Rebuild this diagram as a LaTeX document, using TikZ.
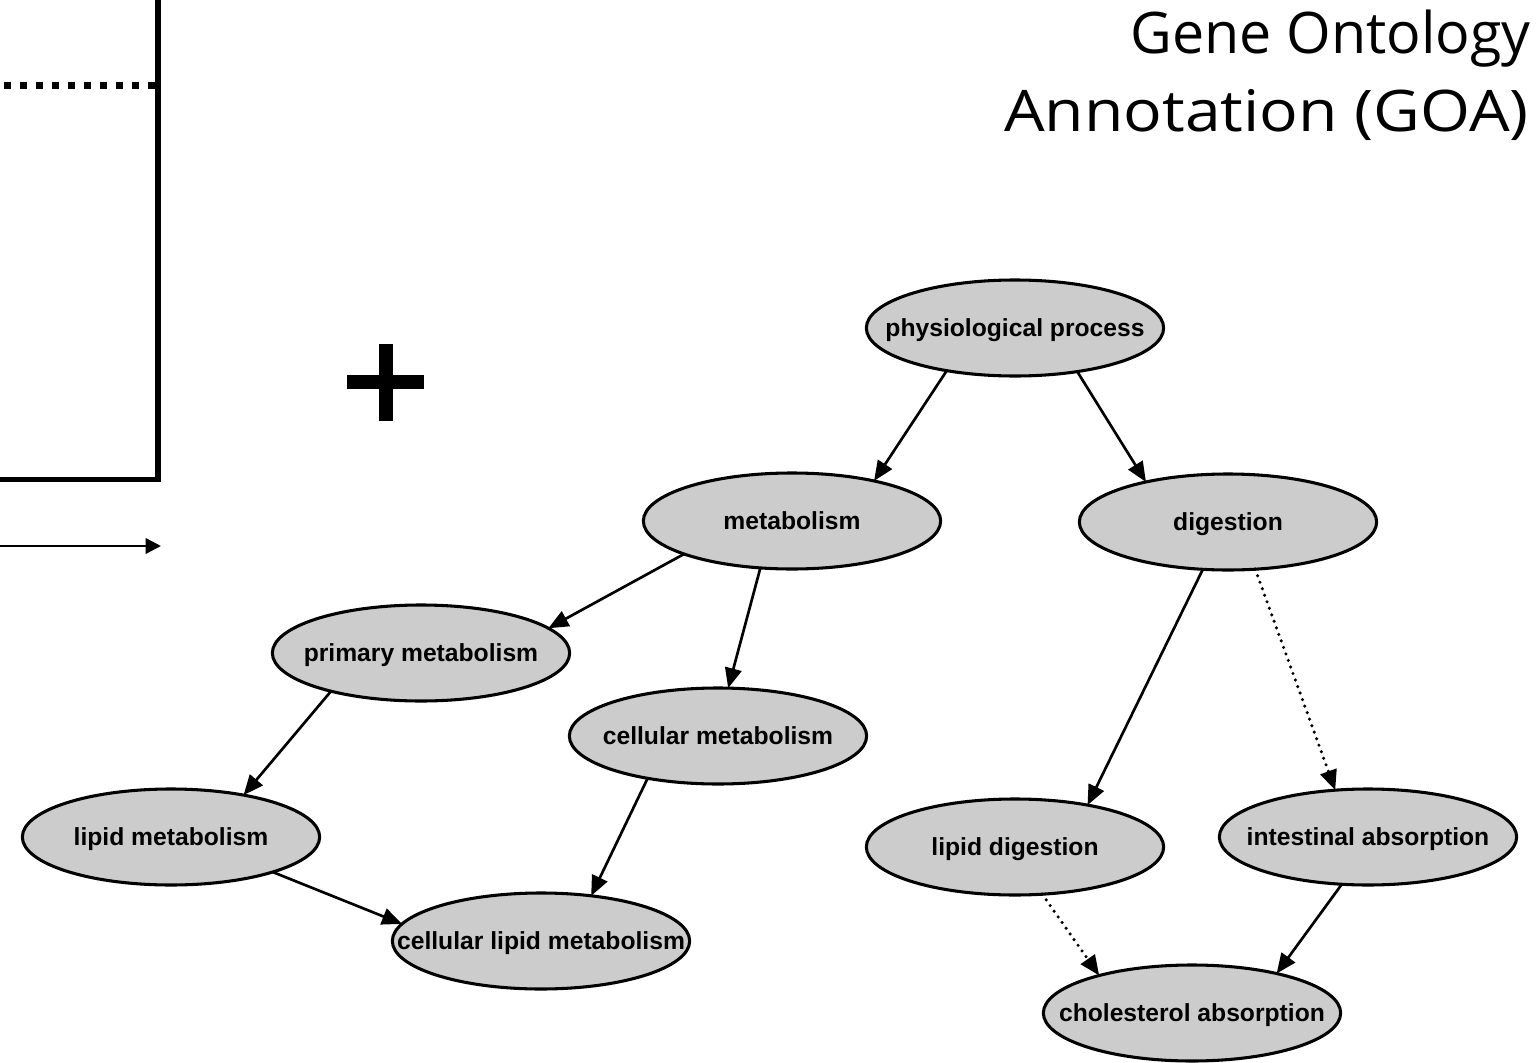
\documentclass[tikz,border=0pt]{standalone}
\usepackage{fontspec}
\usetikzlibrary{arrows.meta,shapes.geometric}
\newfontfamily\labfont{Liberation Sans}
\newfontfamily\titlefont{Open Sans}
\definecolor{nodegray}{HTML}{CCCCCC}
\newcommand\gl[1]{\makebox[0pt]{#1}}
\begin{document}
\begin{tikzpicture}[x=0.75pt, y=-0.75pt,
  goterm/.style={ellipse, draw=black, line width=2.3pt, fill=nodegray,
    minimum width=223pt, minimum height=72pt, inner sep=0pt, outer sep=0pt,
    text height=14pt, text depth=2pt,
    font={\labfont\bfseries\fontsize{18.5pt}{22pt}\selectfont}},
  arr/.style={line width=2pt, -{Triangle[length=15pt,width=12.5pt]}},
  dotarr/.style={arr, line width=2.6pt, line cap=round, dash pattern=on 0pt off 5.2pt},
  titletext/.style={anchor=base east, inner sep=0pt,
    font={\titlefont\fontsize{43pt}{50pt}\selectfont}},
]
\useasboundingbox (0,0) rectangle (1539,1063);

% left fragment
\draw[line width=4pt, line join=miter] (158,-10) -- (158,479.5) -- (-10,479.5);
\draw[line width=5.3pt, dash pattern=on 5.25pt off 6.75pt] (4,85.5) -- (158,85.5);
\coordinate (la) at (-5,546);
\coordinate (lb) at (161,546);
\draw[line width=1.8pt, -{Triangle[length=11.5pt,width=11.5pt]}] (la) -- (lb);

% plus sign
\fill (347,375) rectangle (424,389);
\fill (379,344) rectangle (393,421);

% title
\node[titletext] (t1) at (1531,54) {Gene Ontology};
\node[titletext] (t2) at (1529,132) {\scalebox{1.12}[1]{Annotation (GOA)}};

% terms
\node[goterm] (phys) at (1015,328) {\gl{physiological process}};
\node[goterm] (met) at (792,521) {\gl{metabolism}};
\node[goterm] (dig) at (1228,522) {\gl{digestion}};
\node[goterm] (prim) at (421,653) {\gl{primary metabolism}};
\node[goterm] (cellm) at (718,736) {\gl{cellular metabolism}};
\node[goterm] (lipm) at (171,837) {\gl{lipid metabolism}};
\node[goterm] (cellipm) at (541,941) {\gl{cellular lipid metabolism}};
\node[goterm] (lipd) at (1015,847) {\gl{lipid digestion}};
\node[goterm] (intab) at (1368,837) {\gl{intestinal absorption}};
\node[goterm] (chol) at (1192,1013) {\gl{cholesterol absorption}};

% edges
\draw[arr] (phys.-148) -- (met.26);
\draw[arr] (phys.-35) -- (dig.154);
\draw[arr] (met.-163) -- (prim.11);
\draw[arr] (met.-124) -- (cellm.78);
\draw[arr] (prim.-157) -- (lipm.30);
\draw[arr] (cellm.-149) -- (cellipm.42);
\draw[arr] (lipm.-19) -- (cellipm.173);
\draw[arr] (dig.-118) -- (lipd.30);
\draw[dotarr] (dig.-60) -- (intab.125);
\draw[dotarr] (lipd.-60) -- (chol.158);
\draw[arr] (intab.-119) -- (chol.25);
\end{tikzpicture}
\end{document}
